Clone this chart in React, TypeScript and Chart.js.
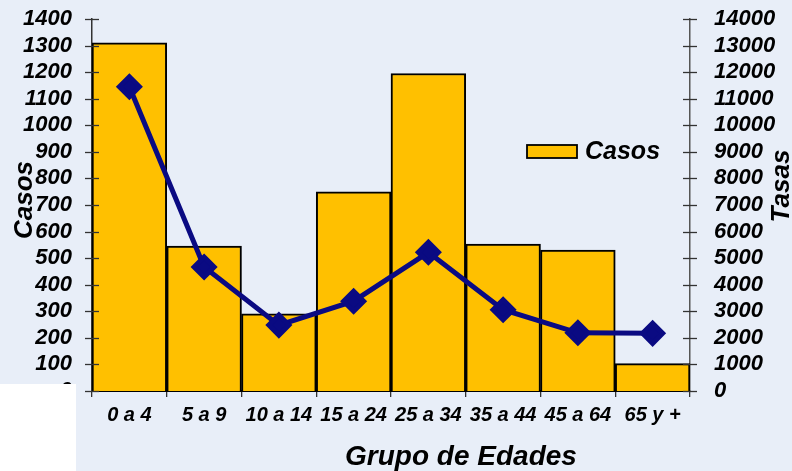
import React, { useEffect, useRef } from "react";
import { Chart, registerables } from "chart.js";

Chart.register(...registerables);

const categories = ["0 a 4", "5 a 9", "10 a 14", "15 a 24", "25 a 34", "35 a 44", "45 a 64", "65 y +"];
const casos = [1310, 545, 290, 750, 1195, 553, 530, 103];
const tasas = [11450, 4670, 2480, 3380, 5220, 3060, 2190, 2170];
const casosAxis = { min: 0, max: 1400, step: 100 };
const tasasAxis = { min: 0, max: 14000, step: 1000 };
const titles = { x: "Grupo de Edades", left: "Casos", right: "Tasas", legend: "Casos" };

const FAMILY = '"Liberation Sans", Arial, Helvetica, sans-serif';
const BAR_COLOR = "#FFC000";
const LINE_COLOR = "#0A0A82";

const overlayPlugin = {
  id: "overlay",
  afterDraw(chart: any) {
    const ctx = chart.ctx as CanvasRenderingContext2D;
    const yl = chart.scales.y;
    const yr = chart.scales.y2;
    ctx.save();
    // cross tick marks
    ctx.lineWidth = 1.3;
    ctx.strokeStyle = "#333";
    yl.ticks.forEach((t: any) => {
      const py = Math.round(yl.getPixelForValue(t.value)) + 0.5;
      ctx.beginPath();
      ctx.moveTo(yl.right - 7, py);
      ctx.lineTo(yl.right + 7, py);
      ctx.stroke();
    });
    yr.ticks.forEach((t: any) => {
      const py = Math.round(yr.getPixelForValue(t.value)) + 0.5;
      ctx.beginPath();
      ctx.moveTo(yr.left - 7, py);
      ctx.lineTo(yr.left + 7, py);
      ctx.stroke();
    });
    // axis titles
    ctx.fillStyle = "#000";
    ctx.textAlign = "center";
    ctx.textBaseline = "middle";
    ctx.font = `italic bold 28px ${FAMILY}`;
    ctx.fillText(titles.x, 461, 457);
    ctx.font = `italic bold 26px ${FAMILY}`;
    ctx.save();
    ctx.translate(25, 200);
    ctx.rotate(-Math.PI / 2);
    ctx.fillText(titles.left, 0, 0);
    ctx.restore();
    ctx.save();
    ctx.translate(782, 186);
    ctx.rotate(-Math.PI / 2);
    ctx.fillText(titles.right, 0, 0);
    ctx.restore();
    // legend
    ctx.fillStyle = BAR_COLOR;
    ctx.fillRect(527, 145, 50, 13);
    ctx.lineWidth = 1.8;
    ctx.strokeStyle = "#000";
    ctx.strokeRect(527, 145, 50, 13);
    ctx.fillStyle = "#000";
    ctx.font = `italic bold 25px ${FAMILY}`;
    ctx.textAlign = "left";
    ctx.textBaseline = "middle";
    ctx.fillText(titles.legend, 585, 152);
    ctx.restore();
  },
};

export default function App() {
  const ref = useRef<HTMLCanvasElement | null>(null);
  useEffect(() => {
    if (!ref.current) return;
    const tickFont = { family: FAMILY, size: 22, style: "italic" as const, weight: "bold" as const };
    const plain = (v: any) => String(v);
    const chart = new Chart(ref.current, {
      type: "bar",
      data: {
        labels: categories,
        datasets: [
          {
            type: "line",
            label: "Tasas",
            data: tasas,
            yAxisID: "y2",
            borderColor: LINE_COLOR,
            backgroundColor: LINE_COLOR,
            borderWidth: 5,
            pointStyle: "rectRot",
            pointRadius: 10,
            pointBackgroundColor: LINE_COLOR,
            pointBorderColor: LINE_COLOR,
            tension: 0,
            order: 0,
          } as any,
          {
            type: "bar",
            label: "Casos",
            data: casos,
            yAxisID: "y",
            backgroundColor: BAR_COLOR,
            borderColor: "#000",
            borderWidth: 2,
            barPercentage: 1,
            categoryPercentage: 1,
            order: 1,
          } as any,
        ],
      },
      options: {
        responsive: false,
        animation: false,
        devicePixelRatio: 1,
        layout: { padding: { top: 19, left: 0, right: 0, bottom: 0 } },
        plugins: { legend: { display: false }, tooltip: { enabled: false } },
        scales: {
          x: {
            offset: true,
            grid: { display: true, drawOnChartArea: false, offset: true, tickLength: 6, color: "#333", lineWidth: 1.3 },
            border: { color: "#000", width: 2 },
            ticks: { font: { ...tickFont, size: 20 }, color: "#000", padding: 6, maxRotation: 0, autoSkip: false },
            afterFit: (s: any) => {
              s.height = 80;
              s.paddingLeft = 0;
              s.paddingRight = 0;
            },
          },
          y: {
            position: "left",
            min: casosAxis.min,
            max: casosAxis.max,
            ticks: { stepSize: casosAxis.step, font: tickFont, color: "#000", padding: 20, autoSkip: false, callback: plain },
            grid: { display: false, drawTicks: false },
            border: { color: "#333", width: 1.5 },
            afterFit: (s: any) => {
              s.width = 92;
              s.paddingTop = 0;
              s.paddingBottom = 0;
            },
          },
          y2: {
            position: "right",
            min: tasasAxis.min,
            max: tasasAxis.max,
            ticks: { stepSize: tasasAxis.step, font: tickFont, color: "#000", padding: 24, autoSkip: false, callback: plain },
            grid: { display: false, drawTicks: false },
            border: { color: "#555", width: 1.5 },
            afterFit: (s: any) => {
              s.width = 102;
              s.paddingTop = 0;
              s.paddingBottom = 0;
            },
          },
        },
      },
      plugins: [overlayPlugin],
    });
    return () => chart.destroy();
  }, []);

  return (
    <div style={{ position: "absolute", left: 0, top: 0, width: 792, height: 471, background: "#E8EEF8", overflow: "hidden" }}>
      <canvas ref={ref} width={792} height={471} style={{ width: 792, height: 471, display: "block" }} />
      <div style={{ position: "absolute", left: 0, top: 384, width: 76, height: 87, background: "#FFFFFF" }} />
    </div>
  );
}
